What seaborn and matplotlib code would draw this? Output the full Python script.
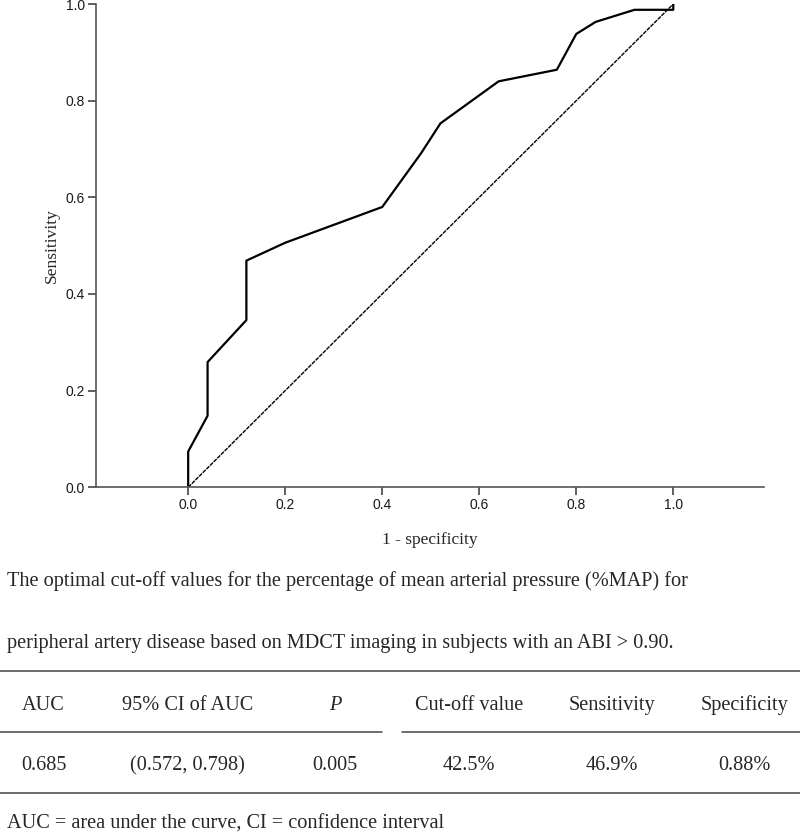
import matplotlib
matplotlib.use('Agg')
import matplotlib.pyplot as plt
import seaborn as sns

# ROC curve (1 - specificity vs sensitivity)
fpr = [0.0, 0.0, 0.04, 0.04, 0.12, 0.12, 0.20, 0.40, 0.48, 0.52, 0.64, 0.76, 0.80, 0.84, 0.92, 1.00, 1.00]
tpr = [0.0, 0.074, 0.148, 0.259, 0.346, 0.469, 0.506, 0.580, 0.691, 0.753, 0.840, 0.864, 0.938, 0.963, 0.988, 0.988, 1.0]
ref_x = [0.0, 1.0]
ref_y = [0.0, 1.0]

ticks = [0.0, 0.2, 0.4, 0.6, 0.8, 1.0]

caption = ['The optimal cut-off values for the percentage of mean arterial pressure (%MAP) for',
           'peripheral artery disease based on MDCT imaging in subjects with an ABI > 0.90.']
headers = ['AUC', '95% CI of AUC', 'P', 'Cut-off value', 'Sensitivity', 'Specificity']
row = ['0.685', '(0.572, 0.798)', '0.005', '42.5%', '46.9%', '0.88%']
footnote = 'AUC = area under the curve, CI = confidence interval'

sns.set_style('white')
plt.rcParams['font.family'] = ['Liberation Serif', 'DejaVu Serif']

W, H = 800, 835
fig = plt.figure(figsize=(W / 100, H / 100), dpi=100)

def fx(px):
    return px / W

def fy(py):
    return 1 - py / H

ax = fig.add_axes([fx(96), fy(487.3), fx(764) - fx(96), fy(4) - fy(487.3)])

sns.lineplot(x=fpr, y=tpr, sort=False, estimator=None, color='black', lw=1.6, ax=ax)
sns.lineplot(x=ref_x, y=ref_y, sort=False, estimator=None, color='black', lw=1.0,
             linestyle=(0, (3, 0.7)), ax=ax)

ax.set_xlim(-0.19, 1.187)
ax.set_ylim(0, 1)
ax.set_xticks(ticks)
ax.set_yticks(ticks)
ax.set_xticklabels([f'{t:.1f}' for t in ticks], family='Liberation Sans', fontsize=10, color='#1a1a1a')
ax.set_yticklabels([f'{t:.1f}' for t in ticks], family='Liberation Sans', fontsize=10, color='#1a1a1a')
ax.tick_params(axis='both', direction='out', length=6, width=1.2, color='#444444', pad=2,
               bottom=True, left=True)
for s in ['top', 'right']:
    ax.spines[s].set_visible(False)
for s in ['left', 'bottom']:
    ax.spines[s].set_color('#555555')
    ax.spines[s].set_linewidth(1.2)

ax.set_xlabel('1 - specificity', fontsize=12.5, labelpad=14)
ax.set_ylabel('Sensitivity', fontsize=12.5, labelpad=4)

# caption
fs = 14.6
fig.text(fx(7), fy(586), caption[0], fontsize=fs, va='baseline', ha='left')
fig.text(fx(7), fy(648), caption[1], fontsize=fs, va='baseline', ha='left')

# table rules
rule = dict(color='#444444', lw=1.1, transform=fig.transFigure)
fig.add_artist(plt.Line2D([0, 1], [fy(670.7), fy(670.7)], **rule))
fig.add_artist(plt.Line2D([0, fx(382)], [fy(731.7), fy(731.7)], **rule))
fig.add_artist(plt.Line2D([fx(402), 1], [fy(731.7), fy(731.7)], **rule))
fig.add_artist(plt.Line2D([0, 1], [fy(793.3), fy(793.3)], **rule))

col_x = [21.5, 187.5, 335, 469, 612, 744.5]
for i, (h, r, cx) in enumerate(zip(headers, row, col_x)):
    ha = 'left' if i == 0 else 'center'
    style = 'italic' if h == 'P' else 'normal'
    fig.text(fx(cx), fy(710), h, fontsize=fs, ha=ha, va='baseline', style=style)
    fig.text(fx(cx), fy(770), r, fontsize=fs, ha=ha, va='baseline')

fig.text(fx(7), fy(829), footnote, fontsize=fs, va='baseline', ha='left')

fig.savefig('out.png', dpi=100)
